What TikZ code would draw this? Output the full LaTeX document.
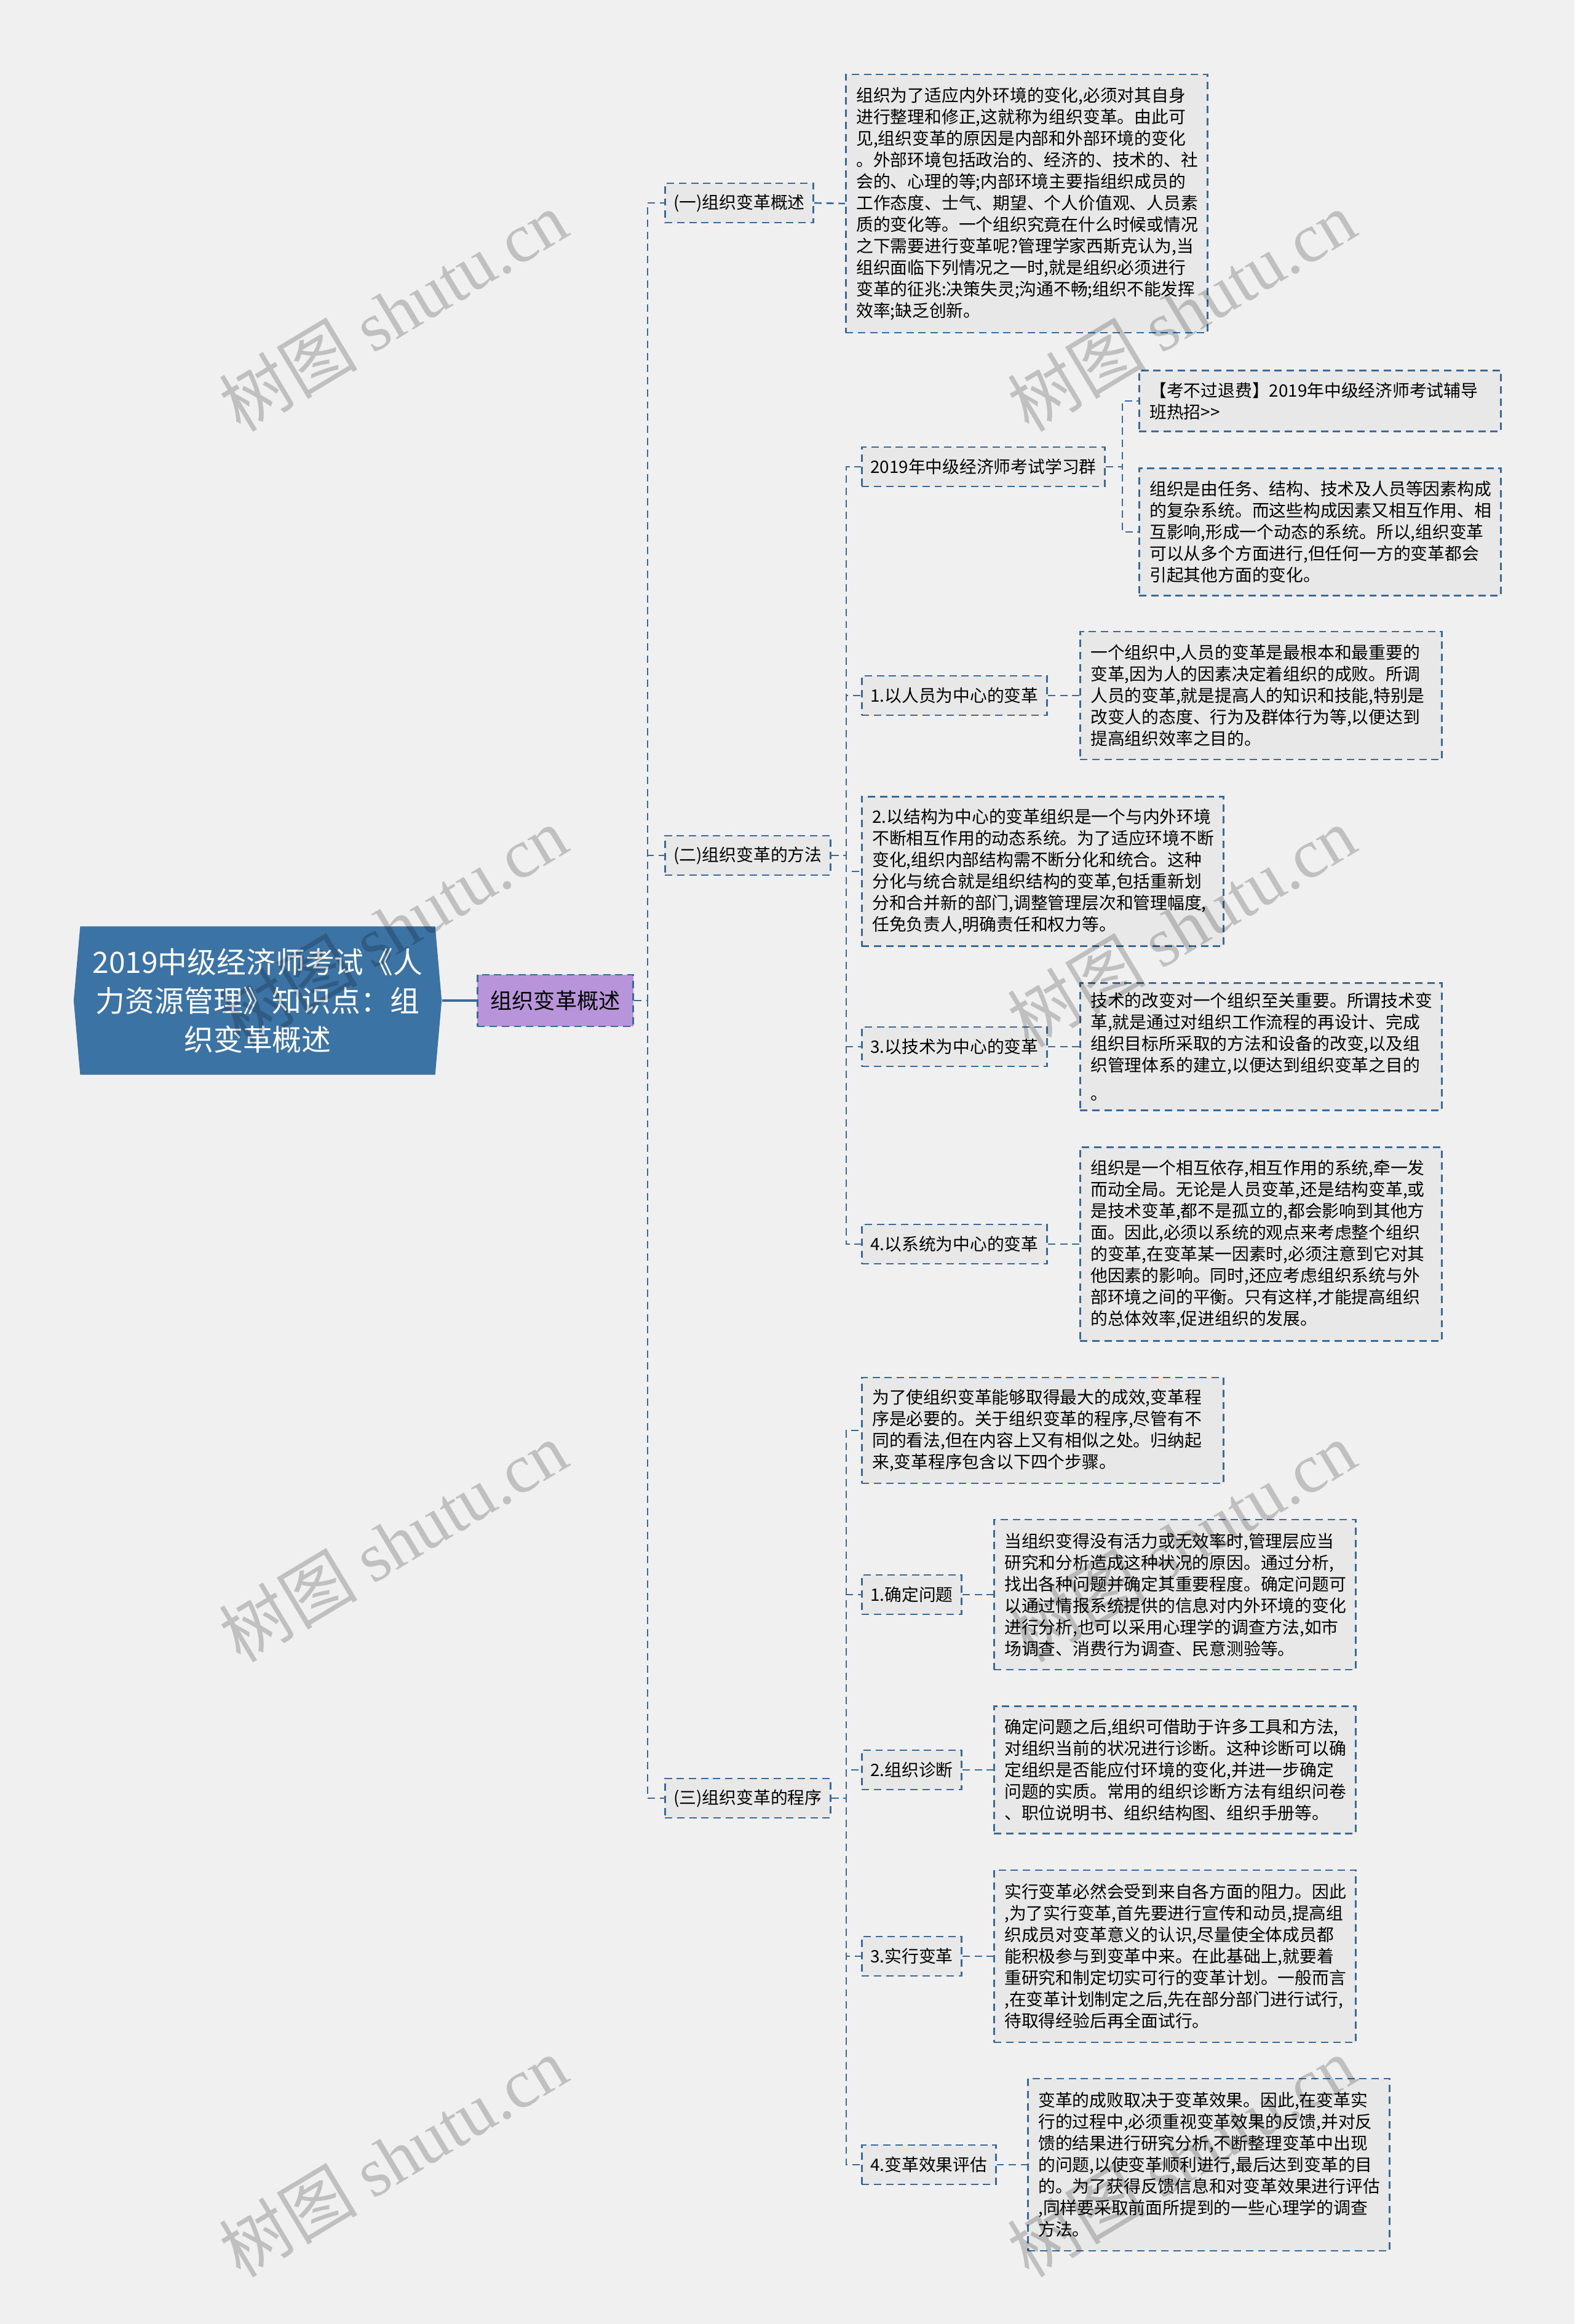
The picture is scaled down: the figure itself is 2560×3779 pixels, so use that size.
\documentclass[tikz,border=0pt]{standalone}
\usepackage{fontspec}
\setmainfont{Noto Sans CJK SC}
\newfontfamily\wmfont{Liberation Serif}
\usetikzlibrary{shapes.symbols}

\definecolor{bgcol}{HTML}{F0F0F0}
\definecolor{linecol}{HTML}{3A6A98}
\definecolor{boxfill}{HTML}{E8E8E8}
\definecolor{rootcol}{HTML}{3C73A5}
\definecolor{topiccol}{HTML}{B895DB}

\begin{document}
\begin{tikzpicture}[x=0.01cm,y=-0.01cm,
  every node/.style={inner sep=0pt},
  link/.style={draw=linecol,line width=0.75pt,dash pattern=on 3.4pt off 2.2pt},
  subbox/.style={link,fill=boxfill,anchor=west,inner xsep=0.14cm,minimum height=0.64cm,
    font=\fontsize{7.9pt}{9.96pt}\selectfont},
  notebox/.style={subbox,align=left,text width=5.54cm,inner xsep=0.17cm},
  topicbox/.style={link,fill=topiccol,minimum width=2.53cm,minimum height=0.84cm,
    font=\fontsize{10pt}{12pt}\selectfont},
  rootbox/.style={shape=signal,signal to=west and east,signal pointer angle=170,
    fill=rootcol,text=white,align=center,text width=5.5cm,minimum width=5.98cm,
    minimum height=2.41cm,font=\fontsize{13.6pt}{17.9pt}\selectfont},
  wmark/.style={rotate=31,opacity=0.2,font=\fontsize{32pt}{32pt}\selectfont}]

  \fill[bgcol] (0,0) rectangle (2560,3779);

  % root and main topic
  \node[rootbox] (root) at (419,1627) {2019中级经济师考试《人\\力资源管理》知识点：组\\织变革概述};
  \node[topicbox] (topic) at (903,1627) {组织变革概述};
  \draw[linecol,line width=1.3pt] (root.east) -- (topic.west);

  % second level
  \coordinate (s1) at (1053,0);
  \node[subbox] (t1) at (1080,330)  {(一)组织变革概述};
  \node[subbox] (t2) at (1080,1391) {(二)组织变革的方法};
  \node[subbox] (t3) at (1080,2924) {(三)组织变革的程序};
  \foreach \n in {t1,t2,t3}
    \draw[link] (topic.east) -- (topic.east -| s1) |- (\n.west);

  \node[notebox,minimum height=4.2cm] (a) at (1374,331) {组织为了适应内外环境的变化,必须对其自身\\进行整理和修正,这就称为组织变革。由此可\\见,组织变革的原因是内部和外部环境的变化\\。外部环境包括政治的、经济的、技术的、社\\会的、心理的等;内部环境主要指组织成员的\\工作态度、士气、期望、个人价值观、人员素\\质的变化等。一个组织究竟在什么时候或情况\\之下需要进行变革呢?管理学家西斯克认为,当\\组织面临下列情况之一时,就是组织必须进行\\变革的征兆:决策失灵;沟通不畅;组织不能发挥\\效率;缺乏创新。};
  \draw[link] (t1.east) -- (a.west);

  % methods
  \coordinate (s2) at (1376,0);
  \node[subbox] (m0) at (1400,759)  {2019年中级经济师考试学习群};
  \node[subbox] (m1) at (1400,1131) {1.以人员为中心的变革};
  \node[notebox,minimum height=2.43cm] (m2) at (1400,1417) {2.以结构为中心的变革组织是一个与内外环境\\不断相互作用的动态系统。为了适应环境不断\\变化,组织内部结构需不断分化和统合。这种\\分化与统合就是组织结构的变革,包括重新划\\分和合并新的部门,调整管理层次和管理幅度,\\任免负责人,明确责任和权力等。};
  \node[subbox] (m3) at (1400,1702) {3.以技术为中心的变革};
  \node[subbox] (m4) at (1400,2023) {4.以系统为中心的变革};
  \foreach \n in {m0,m1,m2,m3,m4}
    \draw[link] (t2.east) -- (t2.east -| s2) |- (\n.west);

  \coordinate (s3) at (1825,0);
  \node[notebox,minimum height=0.99cm] (b1) at (1851,652) {【考不过退费】2019年中级经济师考试辅导\\班热招>{}>};
  \node[notebox,minimum height=2.07cm] (b2) at (1851,865) {组织是由任务、结构、技术及人员等因素构成\\的复杂系统。而这些构成因素又相互作用、相\\互影响,形成一个动态的系统。所以,组织变革\\可以从多个方面进行,但任何一方的变革都会\\引起其他方面的变化。};
  \foreach \n in {b1,b2}
    \draw[link] (m0.east) -- (m0.east -| s3) |- (\n.west);

  \node[notebox,minimum height=2.08cm] (c1) at (1755,1131) {一个组织中,人员的变革是最根本和最重要的\\变革,因为人的因素决定着组织的成败。所调\\人员的变革,就是提高人的知识和技能,特别是\\改变人的态度、行为及群体行为等,以便达到\\提高组织效率之目的。};
  \node[notebox,minimum height=2.07cm] (c3) at (1755,1702) {技术的改变对一个组织至关重要。所谓技术变\\革,就是通过对组织工作流程的再设计、完成\\组织目标所采取的方法和设备的改变,以及组\\织管理体系的建立,以便达到组织变革之目的\\[3pt]。};
  \node[notebox,minimum height=3.15cm] (c4) at (1755,2023) {组织是一个相互依存,相互作用的系统,牵一发\\而动全局。无论是人员变革,还是结构变革,或\\是技术变革,都不是孤立的,都会影响到其他方\\面。因此,必须以系统的观点来考虑整个组织\\的变革,在变革某一因素时,必须注意到它对其\\他因素的影响。同时,还应考虑组织系统与外\\部环境之间的平衡。只有这样,才能提高组织\\的总体效率,促进组织的发展。};
  \draw[link] (m1.east) -- (c1.west);
  \draw[link] (m3.east) -- (c3.west);
  \draw[link] (m4.east) -- (c4.west);

  % procedure
  \node[notebox,minimum height=1.72cm] (p0) at (1400,2326) {为了使组织变革能够取得最大的成效,变革程\\序是必要的。关于组织变革的程序,尽管有不\\同的看法,但在内容上又有相似之处。归纳起\\来,变革程序包含以下四个步骤。};
  \node[subbox] (p1) at (1400,2593) {1.确定问题};
  \node[subbox] (p2) at (1400,2878) {2.组织诊断};
  \node[subbox] (p3) at (1400,3181) {3.实行变革};
  \node[subbox] (p4) at (1400,3520) {4.变革效果评估};
  \foreach \n in {p0,p1,p2,p3,p4}
    \draw[link] (t3.east) -- (t3.east -| s2) |- (\n.west);

  \node[notebox,minimum height=2.44cm] (q1) at (1615,2593) {当组织变得没有活力或无效率时,管理层应当\\研究和分析造成这种状况的原因。通过分析,\\找出各种问题并确定其重要程度。确定问题可\\以通过情报系统提供的信息对内外环境的变化\\进行分析,也可以采用心理学的调查方法,如市\\场调查、消费行为调查、民意测验等。};
  \node[notebox,minimum height=2.07cm] (q2) at (1615,2878) {确定问题之后,组织可借助于许多工具和方法,\\对组织当前的状况进行诊断。这种诊断可以确\\定组织是否能应付环境的变化,并进一步确定\\问题的实质。常用的组织诊断方法有组织问卷\\、职位说明书、组织结构图、组织手册等。};
  \node[notebox,minimum height=2.8cm] (q3) at (1615,3181) {实行变革必然会受到来自各方面的阻力。因此\\,为了实行变革,首先要进行宣传和动员,提高组\\织成员对变革意义的认识,尽量使全体成员都\\能积极参与到变革中来。在此基础上,就要着\\重研究和制定切实可行的变革计划。一般而言\\,在变革计划制定之后,先在部分部门进行试行,\\待取得经验后再全面试行。};
  \node[notebox,minimum height=2.8cm] (q4) at (1670,3520) {变革的成败取决于变革效果。因此,在变革实\\行的过程中,必须重视变革效果的反馈,并对反\\馈的结果进行研究分析,不断整理变革中出现\\的问题,以使变革顺利进行,最后达到变革的目\\的。为了获得反馈信息和对变革效果进行评估\\,同样要采取前面所提到的一些心理学的调查\\方法。};
  \foreach \i in {1,2,3,4}
    \draw[link] (p\i.east) -- (q\i.west);

  % watermarks
  \foreach \x/\y [count=\k] in {639/506,1921/506,639/1507,1921/1507,639/2507,1921/2507,639/3507,1921/3507}
    \node[wmark] (wm\k) at (\x,\y) {树图 {\wmfont shutu.cn}};
\end{tikzpicture}
\end{document}
